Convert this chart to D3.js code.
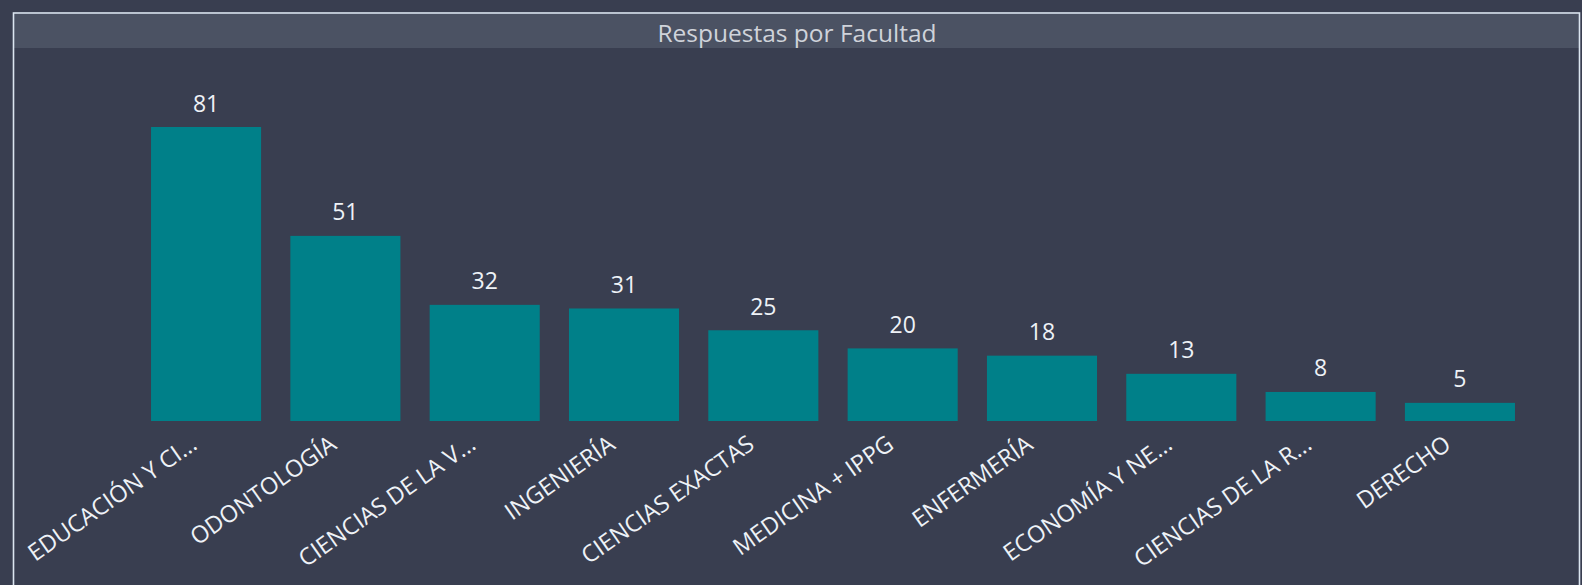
<!DOCTYPE html>
<html>
<head>
<meta charset="utf-8">
<script src="https://cdn.jsdelivr.net/npm/d3@7"></script>
<style>
  html, body { margin: 0; padding: 0; background: #393e50; overflow: hidden; }
  #chart1 { width: 1582px; height: 585px; }
</style>
</head>
<body>
<div id="chart1"></div>
<script>
const faculties = [
  'EDUCACIÓN Y CI...',
  'ODONTOLOGÍA',
  'CIENCIAS DE LA V...',
  'INGENIERÍA',
  'CIENCIAS EXACTAS',
  'MEDICINA + IPPG',
  'ENFERMERÍA',
  'ECONOMÍA Y NE...',
  'CIENCIAS DE LA R...',
  'DERECHO',
];
const responses = [81, 51, 32, 31, 25, 20, 18, 13, 8, 5];
const chartTitle = 'Respuestas por Facultad';

const width = 1582;
const height = 585;
const fontFamily = '"Open Sans", "Noto Sans", sans-serif';

const svg = d3
  .select('#chart1')
  .append('svg')
  .attr('width', width)
  .attr('height', height)
  .attr('viewBox', [0, 0, width, height]);

// background
svg.append('rect').attr('width', width).attr('height', height).attr('fill', '#393e50');

// title band + frame
svg
  .append('rect')
  .attr('x', 14)
  .attr('y', 14)
  .attr('width', 1566)
  .attr('height', 34)
  .attr('fill', '#4b5263');

svg
  .append('rect')
  .attr('x', 13.5)
  .attr('y', 13)
  .attr('width', 1566)
  .attr('height', 620)
  .attr('fill', 'none')
  .attr('stroke', '#dbe5f0')
  .attr('stroke-width', 1.6);

svg
  .append('text')
  .attr('x', 797)
  .attr('y', 41.5)
  .attr('text-anchor', 'middle')
  .attr('font-family', fontFamily)
  .attr('font-size', '24.5px')
  .attr('fill', '#cfd3da')
  .text(chartTitle);

const data = faculties.map((f, i) => ({ faculty: f, value: responses[i] }));

const x = d3
  .scaleBand()
  .domain(faculties)
  .range([136.4, 1529.6])
  .paddingInner(0.21)
  .paddingOuter(0.105);

const y = d3
  .scaleLinear()
  .domain([0, d3.max(responses)])
  .range([421, 127]);

const g = svg.append('g');

g.selectAll('rect.bar')
  .data(data)
  .join('rect')
  .attr('class', 'bar')
  .attr('x', (d) => x(d.faculty))
  .attr('y', (d) => y(d.value))
  .attr('width', x.bandwidth())
  .attr('height', (d) => y(0) - y(d.value))
  .attr('fill', '#008089');

// data labels
g.selectAll('text.value')
  .data(data)
  .join('text')
  .attr('class', 'value')
  .attr('x', (d) => x(d.faculty) + x.bandwidth() / 2)
  .attr('y', (d) => y(d.value) - 15.5)
  .attr('text-anchor', 'middle')
  .attr('font-family', fontFamily)
  .attr('font-size', '23px')
  .attr('fill', '#eef2f7')
  .text((d) => d.value);

// x axis, rotated labels, no line
const xAxis = d3.axisBottom(x).tickSize(0).tickPadding(0);

const axisG = svg
  .append('g')
  .attr('transform', `translate(0, ${y(0)})`)
  .call(xAxis);

axisG.select('.domain').remove();

axisG
  .selectAll('text')
  .attr('font-family', fontFamily)
  .attr('font-size', '23.5px')
  .attr('fill', '#eef2f7')
  .attr('text-anchor', 'end')
  .attr('dy', '0.71em')
  .attr('transform', 'translate(-17, 13) rotate(-35)');
</script>
</body>
</html>
